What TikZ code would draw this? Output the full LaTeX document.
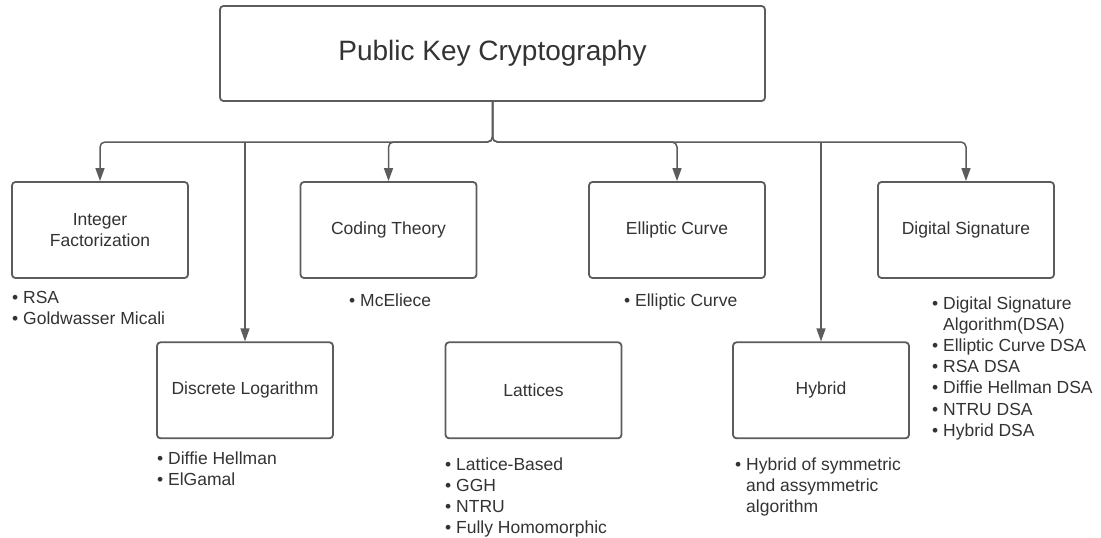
\documentclass[tikz,border=0pt]{standalone}
\usepackage{fontspec}
\setmainfont{Liberation Sans}
\usetikzlibrary{arrows.meta}
\definecolor{linec}{HTML}{5C5C5C}
\definecolor{textc}{HTML}{333333}
\begin{document}
\begin{tikzpicture}[x=1pt,y=-1pt,
  box/.style={draw=linec, line width=1.8pt, rounded corners=3.5pt, minimum width=176pt, minimum height=96pt, inner sep=0pt, text=textc, font=\fontsize{17.5}{21}\selectfont, align=center},
  conn/.style={draw=linec, line width=1.5pt, rounded corners=5pt, -{Triangle[length=13pt,width=9pt]}},
  item/.style={anchor=base west, inner sep=0pt, text=textc, font=\fontsize{17.5}{21}\selectfont}]
\useasboundingbox[fill=white] (0,0) rectangle (1101,538);

% top box
\node[box, minimum width=545pt, minimum height=95pt, font=\fontsize{28}{34}\selectfont] (top) at (492.5,53.5) {Public Key Cryptography};

% row 1
\node[box] (if) at (100,230) {Integer\\Factorization};
\node[box] (ct) at (388.5,230) {Coding Theory};
\node[box] (ec) at (677,230) {Elliptic Curve};
\node[box] (ds) at (966,230) {Digital Signature};

% row 2
\node[box] (dl) at (245,390.3) {Discrete Logarithm};
\node[box] (lat) at (533.5,390.3) {Lattices};
\node[box] (hyb) at (821,390.3) {Hybrid};

% connectors
\coordinate (busy) at (0,142);
\draw[conn] (top.south) |- (if.north |- busy) -- (if.north);
\draw[conn] (top.south) |- (ct.north |- busy) -- (ct.north);
\draw[conn] (top.south) |- (ec.north |- busy) -- (ec.north);
\draw[conn] (top.south) |- (ds.north |- busy) -- (ds.north);
\coordinate (dlj) at (dl.north |- busy);
\coordinate (hybj) at (hyb.north |- busy);
\draw[conn] (dlj) -- (dl.north);
\draw[conn] (hybj) -- (hyb.north);

% lists
\node[item] (if1) at (12,303) {• RSA};
\node[item] (if2) at (12,324.5) {• Goldwasser Micali};

\node[item] (ct1) at (349,306) {• McEliece};
\node[item] (ec1) at (624,306) {• Elliptic Curve};

\node[item] (ds1) at (932,309) {• Digital Signature};
\node[item] (ds2) at (932,330.2) {\phantom{• }Algorithm(DSA)};
\node[item] (ds3) at (932,351.4) {• Elliptic Curve DSA};
\node[item] (ds4) at (932,372.6) {• RSA DSA};
\node[item] (ds5) at (932,393.8) {• Diffie Hellman DSA};
\node[item] (ds6) at (932,415) {• NTRU DSA};
\node[item] (ds7) at (932,436.2) {• Hybrid DSA};

\node[item] (dl1) at (157,464) {• Diffie Hellman};
\node[item] (dl2) at (157,485) {• ElGamal};

\node[item] (lat1) at (445,470) {• Lattice-Based};
\node[item] (lat2) at (445,491) {• GGH};
\node[item] (lat3) at (445,512) {• NTRU};
\node[item] (lat4) at (445,533) {• Fully Homomorphic};

\node[item] (hyb1) at (735,470) {• Hybrid of symmetric};
\node[item] (hyb2) at (735,491) {\phantom{• }and assymmetric};
\node[item] (hyb3) at (735,512) {\phantom{• }algorithm};
\end{tikzpicture}
\end{document}
